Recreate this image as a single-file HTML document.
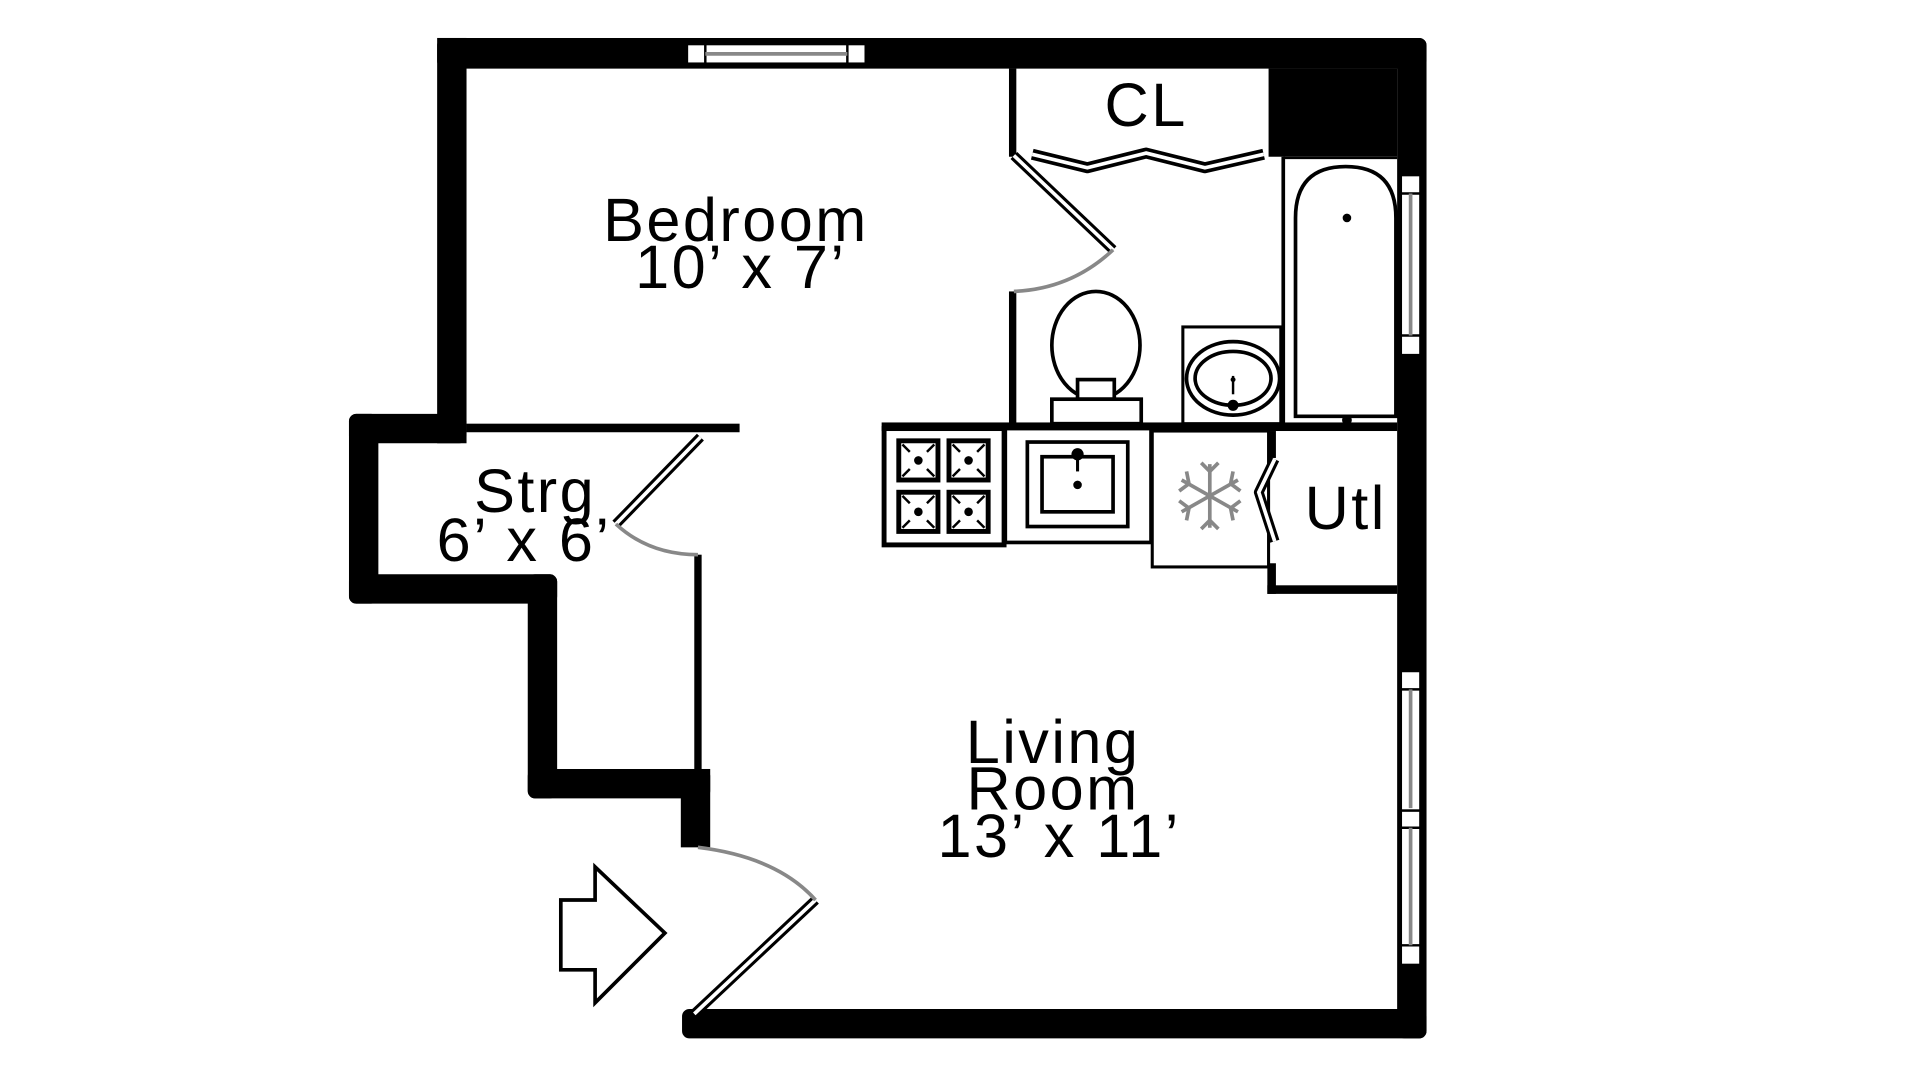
<!DOCTYPE html>
<html><head><meta charset="utf-8"><style>
html,body{margin:0;padding:0;background:#fff;width:1920px;height:1080px;overflow:hidden}
svg{display:block}
text{font-family:"Liberation Sans","DejaVu Sans",sans-serif;fill:#000;text-anchor:middle;letter-spacing:2px}
</style></head><body>
<svg width="1920" height="1080" viewBox="0 0 1568 882" xmlns="http://www.w3.org/2000/svg">
<rect width="1568" height="882" fill="#fff"/>
<g fill="#000">
<rect x="357" y="31" width="808" height="25" rx="6"/>
<rect x="1141" y="31" width="24" height="817" rx="6"/>
<rect x="1036" y="56" width="105" height="72"/>
<rect x="357" y="31" width="24" height="331"/>
<rect x="285" y="338" width="96" height="24" rx="6"/>
<rect x="285" y="338" width="24" height="155" rx="6"/>
<rect x="285" y="469" width="170" height="24" rx="6"/>
<rect x="431" y="469" width="24" height="183" rx="6"/>
<rect x="431" y="628" width="149" height="24" rx="6"/>
<rect x="556" y="628" width="24" height="64"/>
<rect x="567" y="453" width="6" height="178"/>
<rect x="557" y="824" width="608" height="24" rx="6"/>
<rect x="381" y="346" width="223" height="7"/>
<rect x="824" y="56" width="6" height="72"/>
<rect x="824" y="238" width="6" height="110"/>
<rect x="720" y="345" width="421" height="7"/>
<rect x="1035" y="352" width="7" height="22"/>
<rect x="1035" y="460" width="7" height="25"/>
<rect x="1035" y="478" width="106" height="7"/>
</g>
<rect x="561" y="36" width="146" height="16" fill="#fff" stroke="#000" stroke-width="2"/>
<line x1="576" y1="36" x2="576" y2="52" stroke="#000" stroke-width="2"/>
<line x1="692" y1="36" x2="692" y2="52" stroke="#000" stroke-width="2"/>
<line x1="576" y1="44" x2="692" y2="44" stroke="#888" stroke-width="3"/>
<g fill="#fff" stroke="#000" stroke-width="2">
<rect x="1144" y="143" width="16" height="147"/>
<rect x="1144" y="548" width="16" height="114"/>
<rect x="1144" y="662" width="16" height="126"/>
</g>
<g stroke="#000" stroke-width="2">
<line x1="1144" y1="158" x2="1160" y2="158"/><line x1="1144" y1="274" x2="1160" y2="274"/>
<line x1="1144" y1="563" x2="1160" y2="563"/><line x1="1144" y1="676" x2="1160" y2="676"/>
<line x1="1144" y1="772" x2="1160" y2="772"/>
</g>
<g stroke="#888" stroke-width="3">
<line x1="1152" y1="158" x2="1152" y2="274"/>
<line x1="1152" y1="563" x2="1152" y2="660"/>
<line x1="1152" y1="676" x2="1152" y2="772"/>
</g>
<polyline points="843,126 888,137 936,125 984,137 1032,126" fill="none" stroke="#000" stroke-width="9" stroke-linejoin="round"/>
<polyline points="843,126 888,137 936,125 984,137 1032,126" fill="none" stroke="#fff" stroke-width="3"/>
<line x1="828" y1="127" x2="909" y2="204" stroke="#000" stroke-width="8"/>
<line x1="828" y1="127" x2="909" y2="204" stroke="#fff" stroke-width="3"/>
<path d="M909,204 Q875,236 828,238" fill="none" stroke="#888" stroke-width="3"/>
<ellipse cx="895" cy="282" rx="36" ry="44" fill="#fff" stroke="#000" stroke-width="3"/>
<rect x="880" y="310" width="30" height="16" fill="#fff" stroke="#000" stroke-width="3"/>
<rect x="859" y="326" width="73" height="20" fill="#fff" stroke="#000" stroke-width="3"/>
<rect x="966" y="267" width="80" height="79" fill="#fff" stroke="#000" stroke-width="2.5"/>
<ellipse cx="1007" cy="309" rx="38" ry="30" fill="none" stroke="#000" stroke-width="3"/>
<ellipse cx="1007" cy="309" rx="31" ry="22" fill="none" stroke="#000" stroke-width="3"/>
<line x1="1007" y1="307" x2="1007" y2="322" stroke="#000" stroke-width="2"/>
<circle cx="1007" cy="331" r="4.5"/>
<circle cx="1007" cy="310" r="2"/>
<line x1="1048" y1="128" x2="1048" y2="346" stroke="#000" stroke-width="3"/>
<line x1="1048" y1="129" x2="1141" y2="129" stroke="#000" stroke-width="2"/>
<path d="M1058,340 V178 Q1058,136 1099,136 Q1140,136 1140,178 V340 Z" fill="#fff" stroke="#000" stroke-width="3"/>
<circle cx="1100" cy="178" r="3.5"/>
<circle cx="1100" cy="343" r="4"/>
<rect x="722" y="350" width="98" height="95" fill="#fff" stroke="#000" stroke-width="4"/>
<g fill="#fff" stroke="#000" stroke-width="4">
<rect x="734" y="360" width="32" height="32"/><rect x="775" y="360" width="32" height="32"/>
<rect x="734" y="402" width="32" height="32"/><rect x="775" y="402" width="32" height="32"/>
</g>
<g stroke="#000" stroke-width="2">
<path d="M737,363l6,6M763,363l-6,6M737,389l6,-6M763,389l-6,-6"/>
<path d="M778,363l6,6M804,363l-6,6M778,389l6,-6M804,389l-6,-6"/>
<path d="M737,405l6,6M763,405l-6,6M737,431l6,-6M763,431l-6,-6"/>
<path d="M778,405l6,6M804,405l-6,6M778,431l6,-6M804,431l-6,-6"/>
</g>
<g fill="#000"><circle cx="750" cy="376" r="3.5"/><circle cx="791" cy="376" r="3.5"/><circle cx="750" cy="418" r="3.5"/><circle cx="791" cy="418" r="3.5"/></g>
<rect x="821" y="350" width="119" height="93" fill="#fff" stroke="#000" stroke-width="3"/>
<rect x="839" y="361" width="82" height="69" fill="none" stroke="#000" stroke-width="3"/>
<rect x="851" y="373" width="58" height="45" fill="none" stroke="#000" stroke-width="3"/>
<circle cx="880" cy="371" r="5"/><line x1="880" y1="371" x2="880" y2="385" stroke="#000" stroke-width="2.5"/>
<circle cx="880" cy="396" r="3.5"/>
<rect x="941" y="352" width="95" height="111" fill="#fff" stroke="#000" stroke-width="2.5"/>
<g stroke="#888" stroke-width="3" fill="none" transform="translate(988,405)">
<line x1="0" y1="-26" x2="0" y2="26"/><line x1="-23" y1="-13" x2="23" y2="13"/><line x1="-23" y1="13" x2="23" y2="-13"/>
<polyline points="-7,-27 0,-20 7,-27"/><polyline points="-7,27 0,20 7,27"/>
<polyline points="-25,-4 -17,-10 -19,-20"/><polyline points="25,4 17,10 19,20"/>
<polyline points="-25,4 -17,10 -19,20"/><polyline points="25,-4 17,-10 19,-20"/>
</g>
<polyline points="1041,375 1028,402 1041,442" fill="none" stroke="#000" stroke-width="8" stroke-linejoin="round"/>
<polyline points="1041,375 1028,402 1041,442" fill="none" stroke="#fff" stroke-width="3"/>
<line x1="503" y1="428" x2="572" y2="357" stroke="#000" stroke-width="8"/>
<line x1="503" y1="428" x2="572" y2="357" stroke="#fff" stroke-width="3"/>
<path d="M503,428 Q530,453 570,453" fill="none" stroke="#888" stroke-width="3"/>
<line x1="567" y1="828" x2="666" y2="735" stroke="#000" stroke-width="8"/>
<line x1="567" y1="828" x2="666" y2="735" stroke="#fff" stroke-width="3"/>
<path d="M570,692 Q635,700 666,735" fill="none" stroke="#888" stroke-width="3"/>
<polygon points="458,735 486,735 486,708 543,762 486,819 486,792 458,792" fill="#fff" stroke="#000" stroke-width="3"/>
<g font-size="50">
<text x="601" y="197">Bedroom</text>
<text x="605" y="235">10’ x 7’</text>
<text x="936" y="103">CL</text>
<text x="437" y="418">Strg</text>
<text x="428" y="458">6’ x 6’</text>
<text x="1099" y="432">Utl</text>
<text x="860" y="623">Living</text>
<text x="860" y="661">Room</text>
<text x="865" y="700">13’ x 11’</text>
</g>
</svg>
</body></html>
